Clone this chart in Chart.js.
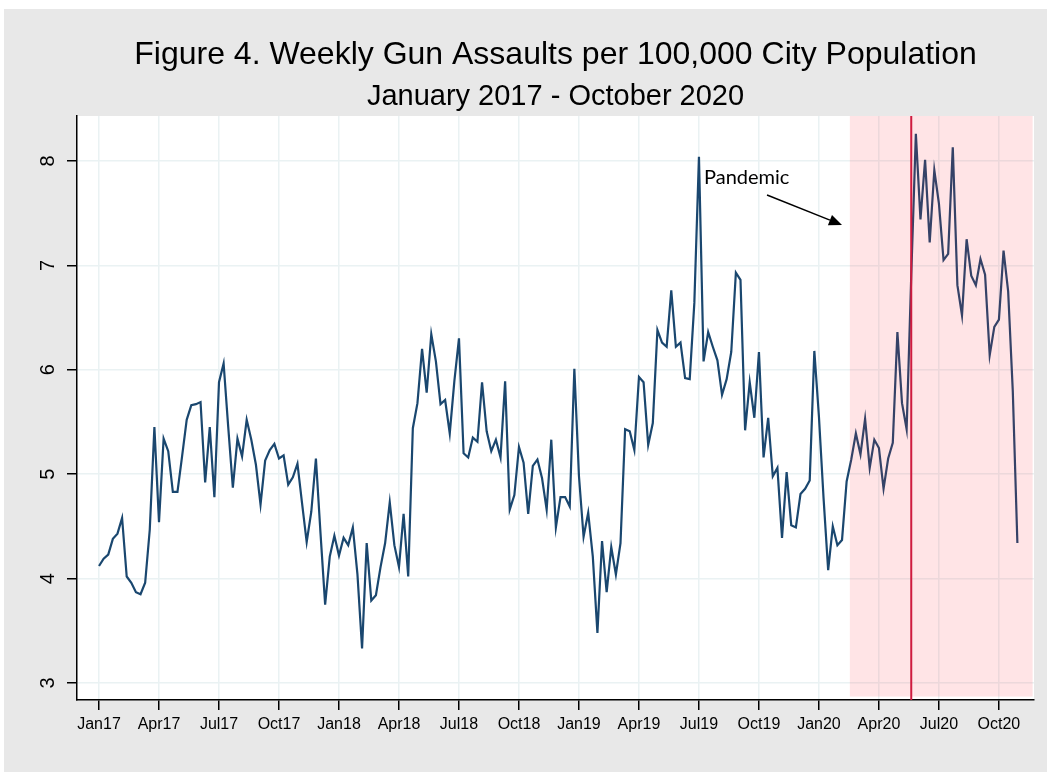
<!DOCTYPE html>
<html>
<head>
<meta charset="utf-8">
<script src="https://cdn.jsdelivr.net/npm/chart.js@4.4.1/dist/chart.umd.min.js"></script>
<style>
  body { margin: 0; background: #fff; }
  #wrap { width: 1047px; height: 772px; }
</style>
</head>
<body>
<div id="wrap"><canvas id="gun-chart"></canvas></div>
<script>
// weekly rate, week 0 = first week of Jan 2017
const assaults = [
  4.12, 4.19, 4.23, 4.38, 4.43, 4.58, 4.02, 3.96, 3.87, 3.85,
  3.96, 4.47, 5.45, 4.54, 5.34, 5.22, 4.83, 4.83, 5.17, 5.52,
  5.66, 5.67, 5.69, 4.92, 5.45, 4.78, 5.88, 6.06, 5.45, 4.87,
  5.34, 5.17, 5.52, 5.33, 5.09, 4.71, 5.13, 5.23, 5.29, 5.15,
  5.18, 4.90, 4.97, 5.10, 4.72, 4.35, 4.64, 5.15, 4.43, 3.75,
  4.21, 4.41, 4.22, 4.39, 4.32, 4.49, 4.04, 3.33, 4.34, 3.79,
  3.84, 4.11, 4.34, 4.73, 4.32, 4.11, 4.62, 4.02, 5.44, 5.68,
  6.20, 5.78, 6.34, 6.08, 5.67, 5.71, 5.39, 5.89, 6.30, 5.20,
  5.16, 5.35, 5.31, 5.88, 5.41, 5.22, 5.33, 5.16, 5.89, 4.66,
  4.80, 5.26, 5.11, 4.62, 5.08, 5.14, 4.96, 4.66, 5.33, 4.49,
  4.78, 4.78, 4.69, 6.01, 4.98, 4.40, 4.63, 4.21, 3.48, 4.36,
  3.87, 4.30, 4.04, 4.34, 5.43, 5.41, 5.23, 5.93, 5.88, 5.28,
  5.49, 6.38, 6.26, 6.22, 6.76, 6.22, 6.26, 5.92, 5.91, 6.64,
  8.04, 6.08, 6.36, 6.22, 6.09, 5.76, 5.91, 6.17, 6.93, 6.86,
  5.42, 5.88, 5.54, 6.17, 5.16, 5.54, 4.98, 5.06, 4.39, 5.02,
  4.51, 4.49, 4.81, 4.86, 4.94, 6.18, 5.55, 4.77, 4.08, 4.50,
  4.32, 4.37, 4.93, 5.14, 5.39, 5.19, 5.53, 5.06, 5.33, 5.25,
  4.86, 5.15, 5.30, 6.36, 5.68, 5.43, 6.90, 8.26, 7.44, 8.01,
  7.22, 7.91, 7.59, 7.05, 7.11, 8.13, 6.81, 6.52, 7.25, 6.90,
  6.81, 7.06, 6.91, 6.14, 6.41, 6.48, 7.14, 6.75, 5.80, 4.34
];

const tickWeeks = [0, 13, 26, 39, 52, 65, 78, 91, 104, 117, 130, 143, 156, 169, 182, 195];
const tickLabels = ['Jan17', 'Apr17', 'Jul17', 'Oct17', 'Jan18', 'Apr18', 'Jul18', 'Oct18',
  'Jan19', 'Apr19', 'Jul19', 'Oct19', 'Jan20', 'Apr20', 'Jul20', 'Oct20'];
const yTicks = [3, 4, 5, 6, 7, 8];

const pandemicStart = 162.7;   // shaded period (weeks)
const pandemicEnd = 202.3;
const floydWeek = 176;         // red vertical line
const noteText = 'Pandemic';
const notePos = [131.1, 7.777];
const arrowFrom = [144.75, 7.674];
const arrowTo = [161.0, 7.387];

const ctx = document.getElementById('gun-chart');

const backdrop = {
  id: 'backdrop',
  beforeDraw(chart) {
    const c = chart.ctx;
    const a = chart.chartArea;
    c.save();
    c.fillStyle = '#ffffff';
    c.fillRect(0, 0, chart.width, chart.height);
    c.fillStyle = '#e8e8e8';
    c.fillRect(4, 9, chart.width - 4, chart.height - 9);
    c.fillStyle = '#ffffff';
    c.fillRect(a.left, a.top, a.right - a.left, a.bottom - a.top);
    c.restore();
  }
};

const overlay = {
  id: 'overlay',
  afterDatasetsDraw(chart) {
    const c = chart.ctx;
    const x = chart.scales.x;
    const y = chart.scales.y;
    const a = chart.chartArea;
    c.save();
    // pandemic shading
    c.fillStyle = 'rgba(255, 30, 50, 0.12)';
    const x0 = x.getPixelForValue(pandemicStart);
    const x1 = x.getPixelForValue(pandemicEnd);
    c.fillRect(x0, a.top, x1 - x0, y.getPixelForValue(2.87) - a.top);
    // vertical line
    c.strokeStyle = '#cf1b3f';
    c.lineWidth = 2;
    const xl = x.getPixelForValue(floydWeek);
    c.beginPath();
    c.moveTo(xl, a.top);
    c.lineTo(xl, a.bottom);
    c.stroke();
    // label + arrow
    c.fillStyle = '#000';
    c.font = '20px Lato';
    c.textBaseline = 'alphabetic';
    c.textAlign = 'left';
    c.fillText(noteText, x.getPixelForValue(notePos[0]), y.getPixelForValue(notePos[1]));
    const ax = x.getPixelForValue(arrowFrom[0]), ay = y.getPixelForValue(arrowFrom[1]);
    const bx = x.getPixelForValue(arrowTo[0]), by = y.getPixelForValue(arrowTo[1]);
    const ang = Math.atan2(by - ay, bx - ax);
    const hl = 13, hw = 5.5;
    c.strokeStyle = '#000';
    c.lineWidth = 1.5;
    c.beginPath();
    c.moveTo(ax, ay);
    c.lineTo(bx - hl * Math.cos(ang), by - hl * Math.sin(ang));
    c.stroke();
    c.beginPath();
    c.moveTo(bx, by);
    c.lineTo(bx - hl * Math.cos(ang) + hw * Math.sin(ang), by - hl * Math.sin(ang) - hw * Math.cos(ang));
    c.lineTo(bx - hl * Math.cos(ang) - hw * Math.sin(ang), by - hl * Math.sin(ang) + hw * Math.cos(ang));
    c.closePath();
    c.fill();
    c.restore();
  },
  afterDraw(chart) {
    const c = chart.ctx;
    const y = chart.scales.y;
    const a = chart.chartArea;
    const mid = (a.left + a.right) / 2;
    c.save();
    c.fillStyle = '#000';
    c.textAlign = 'center';
    c.textBaseline = 'middle';
    c.font = '32px "Liberation Sans", Arial, sans-serif';
    c.fillText('Figure 4. Weekly Gun Assaults per 100,000 City Population', mid, 55);
    c.font = '29px "Liberation Sans", Arial, sans-serif';
    c.fillText('January 2017 - October 2020', mid, 97);
    // rotated y tick labels
    c.font = '20px "Liberation Sans", Arial, sans-serif';
    yTicks.forEach(v => {
      c.save();
      c.translate(48, y.getPixelForValue(v));
      c.rotate(-Math.PI / 2);
      c.fillText(String(v), 0, 0);
      c.restore();
    });
    c.restore();
  }
};

new Chart(ctx, {
  type: 'line',
  data: {
    datasets: [{
      label: 'Gun assaults',
      data: assaults.map((v, i) => ({ x: i, y: v })),
      borderColor: '#1a476f',
      borderWidth: 2.2,
      pointRadius: 0,
      tension: 0,
      fill: false
    }]
  },
  options: {
    responsive: true,
    maintainAspectRatio: false,
    animation: false,
    layout: { padding: { top: 116, left: 0, right: 13, bottom: 0 } },
    plugins: {
      legend: { display: false },
      tooltip: { enabled: false }
    },
    scales: {
      x: {
        type: 'linear',
        min: -4.77,
        max: 202.6,
        afterBuildTicks: scale => { scale.ticks = tickWeeks.map(v => ({ value: v })); },
        afterFit: scale => { scale.height = 72; },
        ticks: {
          autoSkip: false,
          maxRotation: 0,
          padding: 5,
          color: '#000',
          font: { family: '"Liberation Sans", Arial, sans-serif', size: 16 },
          callback: v => tickLabels[tickWeeks.indexOf(v)]
        },
        grid: {
          color: '#eaf2f3',
          lineWidth: 1.5,
          tickColor: '#000',
          tickWidth: 1.5,
          tickLength: 10
        },
        border: { color: '#000', width: 1.5 }
      },
      y: {
        min: 2.837,
        max: 8.43,
        afterBuildTicks: scale => { scale.ticks = yTicks.map(v => ({ value: v })); },
        afterFit: scale => { scale.width = 77; },
        ticks: { display: false },
        grid: {
          color: '#eaf2f3',
          lineWidth: 1.5,
          tickColor: '#000',
          tickWidth: 1.5,
          tickLength: 10
        },
        border: { color: '#000', width: 1.5 }
      }
    }
  },
  plugins: [backdrop, overlay]
});
</script>
</body>
</html>
